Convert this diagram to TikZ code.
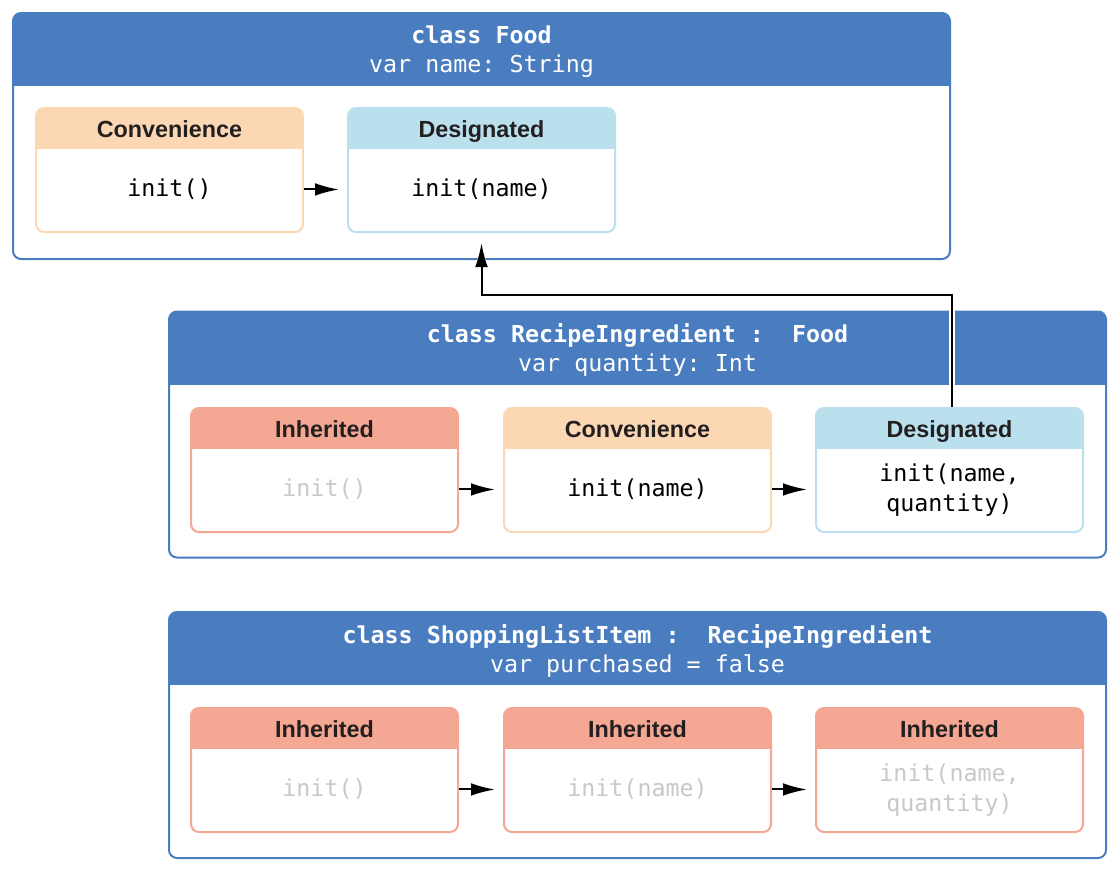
\documentclass[tikz,border=0pt]{standalone}
\usepackage{fontspec}
\setsansfont{Liberation Sans}
\setmonofont{DejaVu Sans Mono}
\usetikzlibrary{positioning,arrows.meta}
\definecolor{classblue}{RGB}{74,125,191}
\definecolor{convorange}{RGB}{251,216,179}
\definecolor{desigblue}{RGB}{186,224,238}
\definecolor{inhred}{RGB}{244,167,146}
\definecolor{greytext}{RGB}{200,200,200}
\definecolor{titlegrey}{RGB}{35,31,32}

\begin{document}
\begin{tikzpicture}[x=0.75pt, y=-0.75pt,
    arrowstyle/.style={-{Latex[length=18pt, width=9.5pt]}, line width=1.5pt, shorten >=6pt},
    classbox/.style={draw=classblue, line width=1.5pt, rounded corners=6pt, minimum width=702.75pt, minimum height=184.5pt, inner sep=0pt,
        path picture={\fill[classblue, sharp corners] (path picture bounding box.north west) rectangle ([yshift=-54.75pt]path picture bounding box.north east);}},
    initbox/.style={draw=#1, line width=1.5pt, rounded corners=6pt, minimum width=200.25pt, minimum height=93pt, inner sep=0pt,
        path picture={\fill[#1, sharp corners] (path picture bounding box.north west) rectangle ([yshift=-30.75pt]path picture bounding box.north east);}}]
  \useasboundingbox (0,0) rectangle (1120,872);
  % Text styles
  \tikzstyle{classtext} = [text=white, align=center, font=\ttfamily\fontsize{17.5}{21.75}\selectfont, inner sep=0pt]
  \tikzstyle{kindtext} = [text=titlegrey, font=\sffamily\bfseries\fontsize{17.5}{21}\selectfont, inner sep=0pt, text height=12.6pt, text depth=0pt]
  \tikzstyle{codetext} = [align=center, font=\ttfamily\fontsize{17.5}{22.5}\selectfont, inner sep=0pt]
  \tikzstyle{inhcode} = [codetext, text=greytext]

  % class Food
  \node (food) [classbox] at (481.5,136) {};
  \node (foodhead) [classtext] at ([yshift=-29.6pt]food.north) {\textbf{class Food}\\var name: String};
  \node (foodconv) [initbox=convorange] at (169.5,170) {};
  \node (fooddesig) [initbox=desigblue] at (481.5,170) {};
  \node [kindtext] at ([yshift=-16.6pt]foodconv.north) {Convenience};
  \node [kindtext] at ([yshift=-16.6pt]fooddesig.north) {Designated};
  \node (foodconvcode) [codetext] at ([yshift=-14.6pt]foodconv.center) {init()};
  \node (fooddesigcode) [codetext] at ([yshift=-14.6pt]fooddesig.center) {init(name)};

  % class RecipeIngredient
  \node (rec) [classbox] at (637.5,434.5) {};
  \node (rechead) [classtext] at ([yshift=-29.6pt]rec.north) {\textbf{class RecipeIngredient :\ \ Food}\\var quantity: Int};
  \node (recinh) [initbox=inhred] at (324.5,470) {};
  \node (recconv) [initbox=convorange] at (637.5,470) {};
  \node (recdesig) [initbox=desigblue] at (949.5,470) {};
  \node [kindtext] at ([yshift=-16.6pt]recinh.north) {Inherited};
  \node [kindtext] at ([yshift=-16.6pt]recconv.north) {Convenience};
  \node [kindtext] at ([yshift=-16.6pt]recdesig.north) {Designated};
  \node (recinhcode) [inhcode] at ([yshift=-14.6pt]recinh.center) {init()};
  \node (recconvcode) [codetext] at ([yshift=-14.6pt]recconv.center) {init(name)};
  \node (recdesigcode) [codetext] at ([yshift=-15.4pt]recdesig.center) {init(name,\\quantity)};

  % class ShoppingListItem
  \node (shop) [classbox] at (637.5,735) {};
  \node (shophead) [classtext] at ([yshift=-29.6pt]shop.north) {\textbf{class ShoppingListItem :\ \ RecipeIngredient}\\var purchased = false};
  \node (shopinh) [initbox=inhred] at (324.5,770) {};
  \node (shopname) [initbox=inhred] at (637.5,770) {};
  \node (shopquant) [initbox=inhred] at (949.5,770) {};
  \node [kindtext] at ([yshift=-16.6pt]shopinh.north) {Inherited};
  \node [kindtext] at ([yshift=-16.6pt]shopname.north) {Inherited};
  \node [kindtext] at ([yshift=-16.6pt]shopquant.north) {Inherited};
  \node (shopinhcode) [inhcode] at ([yshift=-14.6pt]shopinh.center) {init()};
  \node (shopnamecode) [inhcode] at ([yshift=-14.6pt]shopname.center) {init(name)};
  \node (shopquantcode) [inhcode] at ([yshift=-15.4pt]shopquant.center) {init(name,\\quantity)};

  % Delegation arrows
  \draw [arrowstyle] (foodconv.east |- foodconvcode) -- (fooddesig.west |- fooddesigcode);
  \draw [arrowstyle] (recinh.east |- recinhcode) -- (recconv.west |- recconvcode);
  \draw [arrowstyle] (recconv.east |- recconvcode) -- (recdesig.west |- recconvcode);
  \draw [arrowstyle] (shopinh.east |- shopinhcode) -- (shopname.west |- shopinhcode);
  \draw [arrowstyle] (shopname.east |- shopnamecode) -- (shopquant.west |- shopnamecode);

  % Up to the superclass
  \coordinate (bend) at (700,295);
  \draw [arrowstyle, shorten >=7.5pt, preaction={draw=white, line width=4.5pt, -{Latex[length=20pt, width=13pt]}}]
    ([xshift=1.9pt]recdesig.north) |- (bend) -| (fooddesig.south);
\end{tikzpicture}
\end{document}
